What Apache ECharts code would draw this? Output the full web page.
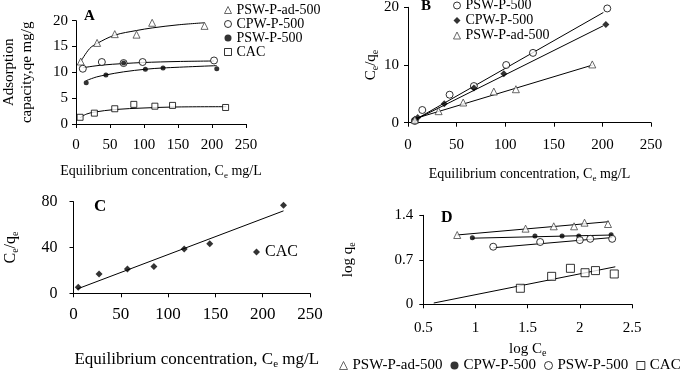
<!DOCTYPE html>
<html><head><meta charset="utf-8">
<script src="https://cdn.jsdelivr.net/npm/echarts@6/dist/echarts.min.js"></script>
<style>html,body{margin:0;padding:0;background:#fff}#c{width:680px;height:372px}</style>
</head><body><div id="c"></div>
<script>
// ---------- Panel A : isotherms qe vs Ce ----------
const aAd   = [[7,12.1],[31,15.7],[57,17.4],[89,17.3],[112,19.6],[189,19.0]];
const aCpw  = [[10,10.7],[38,12.0],[70,11.8],[98,12.0],[203,12.3]];
const aPsw  = [[15,8.0],[44,9.5],[70,11.8],[102,10.6],[128,10.85],[207,10.7]];
const aCac  = [[6,1.3],[27,2.1],[57,2.95],[85,3.8],[116,3.45],[142,3.6],[220,3.2]];
const aAdFit  = [[7,12.1],[20,14.6],[31,15.6],[57,17.2],[89,18.1],[112,18.6],[150,19.2],[189,19.6]];
const aCpwFit = [[10,10.9],[38,11.4],[70,11.7],[98,11.9],[150,12.1],[203,12.2]];
const aPswFit = [[15,8.4],[30,9.1],[44,9.5],[70,10.1],[102,10.6],[128,10.85],[207,11.3]];
const aCacFit = [[6,1.2],[15,1.9],[27,2.3],[57,2.8],[100,3.1],[150,3.3],[221,3.35]];
// ---------- Panel B : Ce/qe vs Ce ----------
const bPsw = [[7,0.3],[14.7,2.2],[42.8,4.85],[67.8,6.35],[101,10.0],[128.6,12.1],[205,19.8]];
const bCpw = [[7,0.6],[10,0.9],[37.3,3.3],[67.8,6.0],[98.6,8.5],[203.6,17.0]];
const bAd  = [[7,0.5],[31.5,2.0],[56.8,3.5],[88.3,5.4],[111,5.8],[189.6,10.1]];
const bPswFit = [[5,0.3],[201,19.1]];
const bCpwFit = [[6,0.4],[201,16.8]];
const bAdFit  = [[5,0.6],[190,10.0]];
// ---------- Panel C : CAC Ce/qe vs Ce ----------
const cCac = [[5,5.2],[27,16.9],[57,21.2],[85,23.4],[117,38.7],[144,43.3],[222,76.9]];
const cCacFit = [[4,3.8],[222,72]];
// ---------- Panel D : log qe vs log Ce ----------
const dAd  = [[0.825,1.09],[1.48,1.19],[1.75,1.227],[1.945,1.227],[2.045,1.284],[2.27,1.263]];
const dCpw = [[0.97,1.045],[1.57,1.074],[1.83,1.074],[1.99,1.074],[2.30,1.095]];
const dPsw = [[1.17,0.906],[1.62,0.98],[2.0,1.01],[2.1,1.03],[2.31,1.03]];
const dCac = [[1.43,0.252],[1.73,0.44],[1.91,0.566],[2.05,0.497],[2.15,0.53],[2.33,0.477]];
const dAdFit  = [[0.82,1.09],[2.28,1.30]];
const dCpwFit = [[0.97,1.04],[2.31,1.09]];
const dPswFit = [[1.17,0.89],[2.31,1.05]];
const dCacFit = [[0.6,0.02],[2.34,0.59]];
// ---------- tick settings ----------
const xTicksCe = {min:0, max:250, interval:50};
const yTicksA = {min:0, max:20, interval:5};
const yTicksB = {min:0, max:20, interval:10};
const yTicksC = {min:0, max:80, interval:40};
const xTicksD = {min:0.5, max:2.5, interval:0.5};
const yTicksD = {min:0, max:1.4, interval:0.7};

const FF = '"Liberation Serif","Times New Roman",serif';
const subRich = (fs, lh) => ({ s:{fontFamily:FF, fontSize:Math.round(fs*0.65), color:'#000', verticalAlign:'bottom', lineHeight:lh} });

function xAxis(grid, t, name, fs, nfs, margin, gap, extra){
  return Object.assign({type:'value', gridIndex:grid, min:t.min, max:t.max, interval:t.interval,
    axisLine:{show:true, onZero:false, lineStyle:{color:'#000', width:1}},
    axisTick:{show:true, length:4, lineStyle:{color:'#000'}},
    splitLine:{show:false},
    axisLabel:{fontFamily:FF, fontSize:fs, color:'#000', margin:margin},
    name:name, nameLocation:'middle', nameGap:gap,
    nameTextStyle:{fontFamily:FF, fontSize:nfs, color:'#000', lineHeight:nfs+3, rich:subRich(nfs, nfs+3)}
  }, extra||{});
}
function yAxis(grid, t, name, fs, nfs, margin, gap, extra){
  return Object.assign({type:'value', gridIndex:grid, min:t.min, max:t.max, interval:t.interval,
    axisLine:{show:true, onZero:false, lineStyle:{color:'#000', width:1}},
    axisTick:{show:true, length:4, lineStyle:{color:'#000'}},
    splitLine:{show:false},
    axisLabel:{fontFamily:FF, fontSize:fs, color:'#000', margin:margin},
    name:name, nameLocation:'middle', nameGap:gap, nameRotate:90,
    nameTextStyle:{fontFamily:FF, fontSize:nfs, color:'#000', lineHeight:nfs+3, rich:subRich(nfs, nfs+3)}
  }, extra||{});
}

const OPEN_CIRCLE = {symbol:'circle', symbolSize:7, itemStyle:{color:'#fff', borderColor:'#000', borderWidth:1}};
const DOT = {symbol:'circle', symbolSize:5, itemStyle:{color:'#000'}};
const TRI = {symbol:'triangle', symbolSize:7, itemStyle:{color:'#fff', borderColor:'#444', borderWidth:1}};
const SQ = {symbol:'rect', symbolSize:6, itemStyle:{color:'#fff', borderColor:'#000', borderWidth:1}};
const SQD = {symbol:'rect', symbolSize:8, itemStyle:{color:'#fff', borderColor:'#000', borderWidth:1}};
const DIA = {symbol:'diamond', symbolSize:7, itemStyle:{color:'#000'}};

function sc(name, data, g, st){
  return Object.assign({type:'scatter', name:name, data:data, xAxisIndex:g, yAxisIndex:g, z:5}, JSON.parse(JSON.stringify(st)));
}
function fit(id, data, g, smooth){
  return {type:'line', name:id, data:data, xAxisIndex:g, yAxisIndex:g, showSymbol:false, symbol:'none', smooth:smooth?0.35:false,
    lineStyle:{color:'#000', width:1}, silent:true, z:3};
}
function legItem(name, st){
  return {name:name, icon:st.symbol==='rect'?'rect':st.symbol, itemStyle:Object.assign({borderWidth:0}, st.itemStyle)};
}

const chart = echarts.init(document.getElementById('c'), null, {renderer:'canvas'});
chart.setOption({
  animation:false,
  backgroundColor:'#fff',
  grid:[
    {left:76, top:20.7, width:170, height:103.3, outerBoundsMode:'none', containLabel:false},
    {left:408, top:7.3, width:243, height:115.4, outerBoundsMode:'none', containLabel:false},
    {left:73.5, top:201.7, width:236.5, height:91.6, outerBoundsMode:'none', containLabel:false},
    {left:423.3, top:215.3, width:208.7, height:89, outerBoundsMode:'none', containLabel:false}
  ],
  xAxis:[
    xAxis(0, xTicksCe, 'Equilibrium concentration, C{s|e} mg/L', 15, 14, 14, 39),
    xAxis(1, xTicksCe, 'Equilibrium concentration, C{s|e} mg/L', 15, 14, 15, 43),
    xAxis(2, xTicksCe, 'Equilibrium concentration, C{s|e} mg/L', 17, 17, 13, 56, {nameTextStyle:{fontFamily:FF, fontSize:17, color:'#000', lineHeight:20, padding:[0,0,0,10], rich:subRich(17,20)}}),
    xAxis(3, xTicksD, 'log C{s|e}', 15, 15, 16, 36)
  ],
  yAxis:[
    yAxis(0, yTicksA, 'Adsorption\ncapacity,qe mg/g', 15, 15, 8, 40),
    yAxis(1, yTicksB, 'C{s|e}/q{s|e}', 15, 15, 9, 28),
    yAxis(2, yTicksC, 'C{s|e}/q{s|e}', 16, 16, 16, 53),
    yAxis(3, yTicksD, 'log q{s|e}', 15, 15, 10, 66)
  ],
  legend:[
    {selectedMode:false, orient:'vertical', left:224, top:3, padding:0, itemWidth:7, itemHeight:7, itemGap:0,
     textStyle:{fontFamily:FF, fontSize:14, color:'#000', lineHeight:13.3},
     data:[legItem('PSW-P-ad-500',TRI), legItem('CPW-P-500',OPEN_CIRCLE), legItem('PSW-P-500',DOT), legItem('CAC',SQ)]},
    {selectedMode:false, orient:'vertical', left:453, top:-2, padding:0, itemWidth:7, itemHeight:7, itemGap:0,
     textStyle:{fontFamily:FF, fontSize:14, color:'#000', lineHeight:15},
     data:[legItem('PSW-P-500',OPEN_CIRCLE), legItem('CPW-P-500',DIA), legItem('PSW-P-ad-500',TRI)]},
    {selectedMode:false, orient:'horizontal', left:253, top:244, padding:0, itemWidth:7, itemHeight:7,
     textStyle:{fontFamily:FF, fontSize:16, color:'#000'},
     data:[legItem('CAC',DIA)]},
    {selectedMode:false, orient:'horizontal', left:339, top:358, width:420, padding:0, itemWidth:8, itemHeight:8, itemGap:8,
     textStyle:{fontFamily:FF, fontSize:15, color:'#000'},
     data:[legItem('PSW-P-ad-500',TRI), legItem('CPW-P-500',DOT), legItem('PSW-P-500',OPEN_CIRCLE), legItem('CAC',SQ)]}
  ],
  graphic:[
    {type:'text', left:84, top:9, style:{text:'A', font:'bold 15px '+FF, fill:'#000'}},
    {type:'text', left:421, top:-1, style:{text:'B', font:'bold 15px '+FF, fill:'#000'}},
    {type:'text', left:94, top:198, style:{text:'C', font:'bold 17px '+FF, fill:'#000'}},
    {type:'text', left:441, top:210, style:{text:'D', font:'bold 16px '+FF, fill:'#000'}}
  ],
  series:[
    fit('fA1', aAdFit, 0, true), fit('fA2', aCpwFit, 0, true), fit('fA3', aPswFit, 0, true), fit('fA4', aCacFit, 0, true),
    sc('PSW-P-ad-500', aAd, 0, TRI), sc('CPW-P-500', aCpw, 0, OPEN_CIRCLE), sc('PSW-P-500', aPsw, 0, DOT), sc('CAC', aCac, 0, SQ),
    fit('fB1', bPswFit, 1), fit('fB2', bCpwFit, 1), fit('fB3', bAdFit, 1),
    sc('PSW-P-500', bPsw, 1, OPEN_CIRCLE), sc('CPW-P-500', bCpw, 1, DIA), sc('PSW-P-ad-500', bAd, 1, TRI),
    fit('fC1', cCacFit, 2),
    sc('CAC', cCac, 2, DIA),
    fit('fD1', dAdFit, 3), fit('fD2', dCpwFit, 3), fit('fD3', dPswFit, 3), fit('fD4', dCacFit, 3),
    sc('PSW-P-ad-500', dAd, 3, TRI), sc('CPW-P-500', dCpw, 3, DOT), sc('PSW-P-500', dPsw, 3, OPEN_CIRCLE), sc('CAC', dCac, 3, SQD)
  ]
});
</script></body></html>
